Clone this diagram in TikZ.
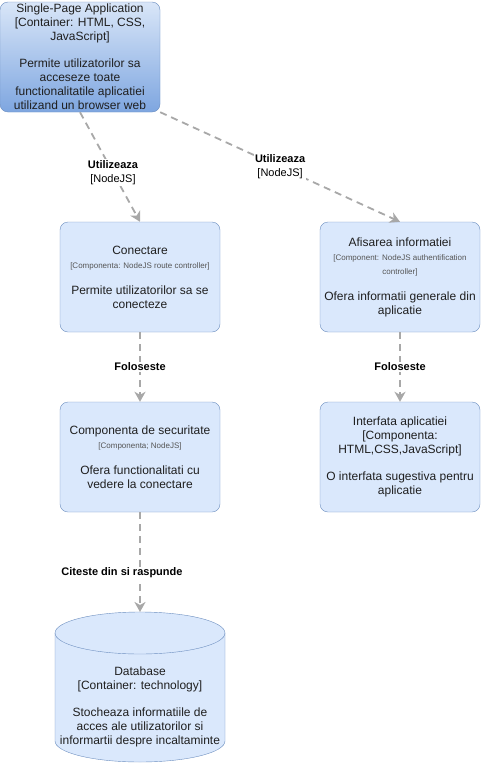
\documentclass[tikz,border=0pt]{standalone}
\usepackage{fontspec}
\setmainfont{Liberation Sans}
\usetikzlibrary{arrows.meta,positioning}
\definecolor{boxfill}{HTML}{DAE8FC}
\definecolor{boxline}{HTML}{6C8EBF}
\definecolor{spatop}{HTML}{D9E6F8}
\definecolor{spabottom}{HTML}{7EA6E0}
\definecolor{relgray}{HTML}{A8A8A8}
\definecolor{techgray}{HTML}{555555}
\newcommand{\techtxt}[1]{{\fontsize{8pt}{12pt}\selectfont\color{techgray}#1}}

\begin{document}
\begin{tikzpicture}[x=1pt, y=-1pt,
    every node/.style={font=\fontsize{12pt}{14pt}\selectfont, text=black!88},
    block/.style={rectangle, rounded corners=8pt, draw=boxline, fill=boxfill, minimum width=160pt, minimum height=110pt, align=center, inner sep=1pt},
    spablock/.style={block, top color=spatop, bottom color=spabottom},
    uses/.style={draw=relgray, line width=1.8pt, dash pattern=on 7pt off 5pt, -{Stealth[length=10pt,width=11pt,inset=3pt]}},
    rel/.style={fill=white, font=\fontsize{11pt}{14pt}\selectfont, text=black, align=center, inner sep=1pt}
]
    \useasboundingbox (0,0) rectangle (481,763);

    \node [spablock] (spa) at (80,57) {Single-Page Application\\{[Container: HTML, CSS,}\\JavaScript]\\[13pt]Permite utilizatorilor sa\\acceseze toate\\functionalitatile aplicatiei\\utilizand un browser web};

    \node [block] (con) at (140,277) {Conectare\\\techtxt{[Componenta: NodeJS route controller]}\\[12pt]Permite utilizatorilor sa se\\conecteze};
    \node [block] (afis) at (400,277) {Afisarea informatiei\\\techtxt{[Component: NodeJS authentification}\\\techtxt{controller]}\\[12pt]Ofera informatii generale din\\aplicatie};
    \node [block] (sec) at (140,457) {Componenta de securitate\\\techtxt{[Componenta; NodeJS]}\\[12pt]Ofera functionalitati cu\\vedere la conectare};
    \node [block] (intf) at (400,457) {Interfata aplicatiei\\{[Componenta:}\\HTML,CSS,JavaScript]\\[13pt]O interfata sugestiva pentru\\aplicatie};

    \draw [draw=boxline, fill=boxfill] (55,633) -- (55,741) arc[start angle=180, end angle=360, x radius=85pt, y radius=21pt] -- (225,633) arc[start angle=0, end angle=180, x radius=85pt, y radius=21pt] -- cycle;
    \draw [draw=boxline] (55,633) arc[start angle=180, end angle=360, x radius=85pt, y radius=21pt];
    \coordinate (dbtop) at (140,612);
    \node [align=center] (db) at (140,707) {Database\\{[Container: technology]}\\[13pt]Stocheaza informatiile de\\acces ale utilizatorilor si\\informartii despre incaltaminte};

    \draw [uses] (spa.south) -- node [rel, pos=0.55] {\textbf{Utilizeaza}\\{[NodeJS]}} (con.north);
    \draw [uses] (spa.south east) -- node [rel, pos=0.5] {\textbf{Utilizeaza}\\{[NodeJS]}} (afis.north);
    \draw [uses] (con.south) -- node [rel] {\textbf{Foloseste}} (sec.north);
    \draw [uses] (afis.south) -- node [rel] {\textbf{Foloseste}} (intf.north);
    \draw [uses] (sec.south) -- node [rel, pos=0.61, xshift=-18pt] {\textbf{Citeste din si raspunde}} (dbtop);
\end{tikzpicture}
\end{document}
